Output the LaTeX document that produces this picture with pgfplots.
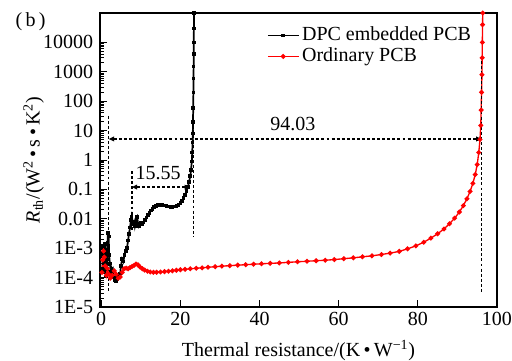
\documentclass[border=0pt]{standalone}
\usepackage{fontspec}
\setmainfont{Liberation Serif}
\usepackage{pgfplots}
\pgfplotsset{compat=1.18}
\usetikzlibrary{arrows.meta}
\begin{document}
\fontsize{15}{18}\selectfont
\begin{tikzpicture}[x=1pt,y=1pt]
\path[use as bounding box] (-75,-40.5) rectangle (309,230.25);
\begin{axis}[at={(0,0)}, anchor=south west, scale only axis,
  width=297.75pt, height=220.5pt,
  xmin=-0.3, xmax=100, ymode=log, ymin=1e-5, ymax=1e5,
  xtick={0,20,40,60,80,100},
  ytick={1e-5,1e-4,1e-3,1e-2,1e-1,1,10,100,1000,10000},
  yticklabels={1E-5,1E-4,1E-3,0.01,0.1,1,10,100,1000,10000},
  tick pos=left, tick align=inside,
  major tick length=5pt, minor tick length=3pt,
  /pgf/number format/assume math mode=true,
  axis line style={line width=1.1pt},
  every tick/.style={black, line width=0.7pt},
  ticklabel style={font=\fontsize{15}{18}\selectfont},
  xticklabel style={yshift=1.5pt},
  xlabel={Thermal resistance/(K\,•\,W\textsuperscript{−1})},
  ylabel={\textit{R}\textsubscript{th}/(W\textsuperscript{2}\,•\,s\,•\,K\textsuperscript{2})},
  label style={font=\fontsize{15}{18}\selectfont},
  xlabel style={at={(axis description cs:0.5,-0.088)}, anchor=north},
  ylabel style={at={(axis description cs:-0.167,0.5)}, anchor=center},
  legend style={at={(0.42,0.962)}, anchor=north west, draw=none, fill=none,
    font=\fontsize{15}{18}\selectfont, inner xsep=0pt, inner ysep=0pt, row sep=-1pt},
  legend cell align=left,
  legend image code/.code={\draw[#1, mark repeat=2, mark phase=2] plot coordinates {(0pt,0pt) (11.5pt,0pt) (23pt,0pt)};},
  dashline/.style={black, line width=1pt, dash pattern=on 2.2pt off 1.6pt},
]
\addplot[black, line width=1.3pt, mark=square*, mark size=0.7pt] coordinates {
(0.3,2e-4) (0.4,6e-4) (0.5,1.2e-3) (0.6,3e-4) (0.7,8e-4) (0.8,1.5e-4) (0.9,5e-4)
(1.0,1.4e-3) (1.1,4e-4) (1.2,1.1e-4) (1.3,3e-4) (1.4,8e-4) (1.5,2e-4) (1.6,1.5e-3)
(1.7,3.3e-3) (1.8,1.2e-3) (1.9,2.5e-3) (2.0,6e-4) (2.2,3e-4) (2.4,1.6e-4) (2.6,2e-4)
(2.8,1.3e-4) (3.0,1.7e-4) (3.2,1.0e-4) (3.5,8e-5) (3.8,7.6e-5) (4.0,8.5e-5) (4.3,1.1e-4)
(4.6,1.0e-4) (4.8,1.4e-4) (5.0,2.5e-4) (5.3,4.3e-4) (5.6,3.5e-4) (5.9,6e-4) (6.2,8e-4)
(6.5,1.0e-3) (6.8,1.8e-3) (7.0,3e-3) (7.3,5e-3) (7.5,9e-3) (7.7,1.2e-2) (7.9,7e-3)
(8.1,6.5e-3) (8.3,8e-3) (8.5,5.5e-3) (8.7,7.5e-3) (8.9,1.0e-2) (9.1,1.15e-2) (9.3,7e-3)
(9.5,5.5e-3) (9.8,6.5e-3) (10.1,7.5e-3) (10.4,6.8e-3) (10.7,7.5e-3) (11.0,9e-3)
(11.4,1.1e-2) (11.8,1.35e-2) (12.2,1.6e-2) (12.6,1.9e-2) (13.0,2.2e-2) (13.4,2.5e-2)
(13.8,2.75e-2) (14.2,2.9e-2) (14.6,3.0e-2) (15.0,3.0e-2) (15.5,2.9e-2) (16.0,2.8e-2)
(16.5,2.7e-2) (17.0,2.6e-2) (17.5,2.55e-2) (18.0,2.55e-2) (18.5,2.6e-2) (19.0,2.75e-2)
(19.5,3.0e-2) (20.0,3.4e-2) (20.4,4.0e-2) (20.8,5.0e-2) (21.2,6.5e-2) (21.6,9e-2)
(21.9,0.12) (22.2,0.18) (22.5,0.28) (22.7,0.45) (22.9,0.9) (23.0,1.8) (23.1,4)
(23.15,8) (23.2,20) (23.25,60) (23.3,200) (23.33,600) (23.36,1500) (23.38,4000)
(23.4,1e4) (23.42,3e4) (23.45,1e5)
};
\addlegendentry{DPC embedded PCB}
\addplot[red, line width=1pt, mark=*, mark size=1.3pt] coordinates {
(0.2,1.5e-4) (0.4,4e-4) (0.6,8e-4) (0.8,5e-4) (1.0,2.5e-4) (1.3,1.2e-4) (1.6,2e-4)
(1.9,1.3e-4) (2.3,9.5e-5) (2.8,1.2e-4) (3.3,1.7e-4) (3.8,1.3e-4) (4.3,9.5e-5)
(4.8,1.05e-4) (5.3,1.5e-4) (5.8,2e-4) (6.3,2.1e-4) (6.8,2e-4) (7.3,2.2e-4) (7.8,2.4e-4)
(8.3,2.6e-4) (8.8,2.9e-4) (9.3,2.7e-4) (9.8,2.3e-4) (10.4,2e-4) (11,1.8e-4)
(11.7,1.65e-4) (12.4,1.55e-4) (13.2,1.52e-4) (14,1.52e-4) (15,1.55e-4) (16,1.6e-4)
(17,1.65e-4) (18,1.7e-4) (19,1.78e-4) (20,1.85e-4) (21.2,1.92e-4) (22.5,2e-4)
(24,2.08e-4) (25.5,2.15e-4) (27,2.25e-4) (28.8,2.35e-4) (30.5,2.45e-4) (32.5,2.55e-4)
(34.5,2.65e-4) (36.5,2.75e-4) (38.5,2.85e-4) (40.5,2.95e-4) (42.7,3.05e-4) (45,3.15e-4)
(47.3,3.3e-4) (49.6,3.45e-4) (52,3.6e-4) (54.3,3.75e-4) (56.6,3.9e-4) (58.9,4.1e-4)
(61.3,4.4e-4) (63.7,4.7e-4) (66,5.1e-4) (68.4,5.5e-4) (70.8,6.1e-4) (73,6.8e-4)
(75.3,7.8e-4) (77.4,9.5e-4) (79.5,1.2e-3) (81.5,1.6e-3) (83.3,2.2e-3) (85,3.1e-3)
(86.6,4.5e-3) (88,6.8e-3) (89.3,1.05e-2) (90.5,1.7e-2) (91.5,2.8e-2) (92.4,4.8e-2)
(93.2,8.5e-2) (93.9,0.16) (94.5,0.32) (95.0,0.7) (95.4,1.8) (95.7,5) (95.9,15)
(96.0,50) (96.1,200) (96.2,800) (96.25,3000) (96.3,1e4) (96.35,4e4) (96.4,1e5)
};
\addlegendentry{Ordinary PCB}
\addplot[dashline, forget plot] coordinates {(1.9,32) (1.9,3e-5)};
\addplot[dashline, forget plot] coordinates {(7.75,0.42) (7.75,3.9e-3)};
\addplot[dashline, forget plot] coordinates {(23.4,1e5) (23.4,2.6e-3)};
\addplot[dashline, forget plot] coordinates {(96.1,3500) (96.1,2.8e-5)};
\addplot[dashline, forget plot, {Triangle[length=4pt,width=3.5pt]}-{Triangle[length=4pt,width=3.5pt]}] coordinates {(1.9,5.2) (96.1,5.2)};
\addplot[dashline, forget plot, {Triangle[length=4pt,width=3.5pt]}-{Triangle[length=4pt,width=3.5pt]}] coordinates {(7.75,0.12) (22.4,0.12)};
\node[font=\fontsize{15}{18}\selectfont] at (axis cs:48.4,16.6) {94.03};
\node[font=\fontsize{15}{18}\selectfont] at (axis cs:14.4,0.36) {15.55};
\end{axis}
\node[font=\fontsize{15}{18}\selectfont] at (-52,214) {(\,b\,)};
\end{tikzpicture}
\end{document}
